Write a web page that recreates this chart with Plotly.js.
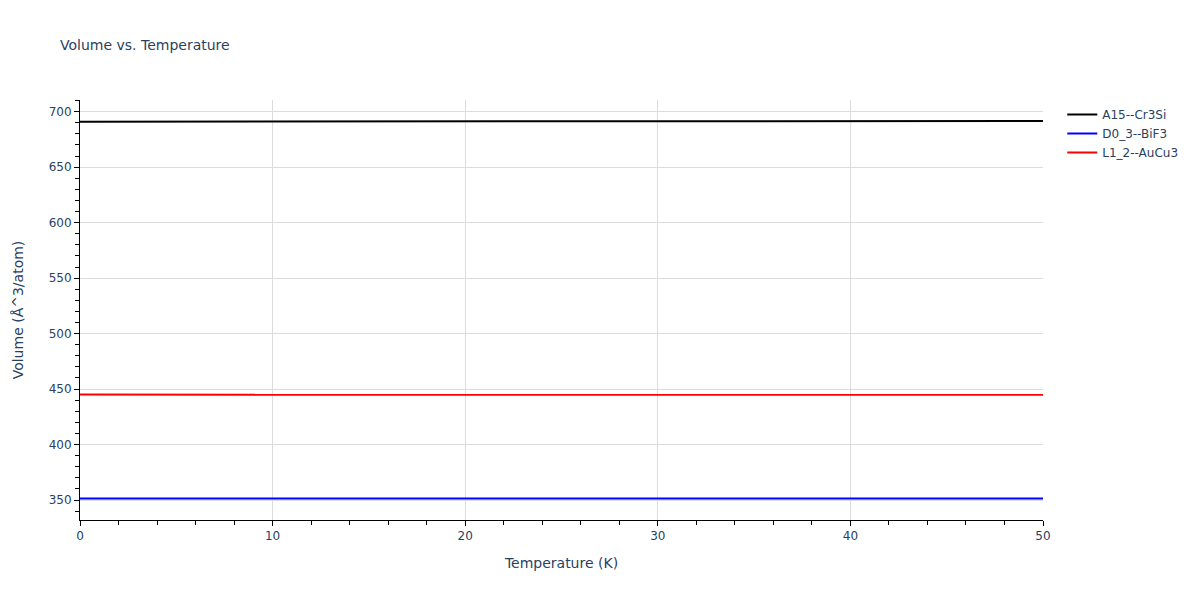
<!DOCTYPE html>
<html>
<head>
<meta charset="utf-8">
<script src="https://cdn.plot.ly/plotly-3.0.1.min.js"></script>
<style>html,body{margin:0;padding:0;background:#fff}#chart{width:1200px;height:600px}</style>
</head>
<body>
<div id="chart"></div>
<script>
const temperature = [0, 5, 10, 15, 20, 25, 30, 35, 40, 45, 50];
const volA15 = [691.0, 691.0, 691.05, 691.1, 691.15, 691.2, 691.25, 691.3, 691.4, 691.5, 691.6];
const volD03 = [351.3, 351.3, 351.3, 351.3, 351.3, 351.3, 351.3, 351.3, 351.3, 351.3, 351.3];
const volL12 = [445.0, 445.0, 445.0, 444.98, 444.95, 444.93, 444.9, 444.88, 444.85, 444.82, 444.8];
const seriesNames = ["A15--Cr3Si", "D0_3--BiF3", "L1_2--AuCu3"];
const seriesColors = ["black", "blue", "red"];

const data = [volA15, volD03, volL12].map((v, i) => ({
  x: temperature, y: v, type: "scatter", mode: "lines",
  name: seriesNames[i], line: {color: seriesColors[i], width: 2}
}));

const axisCommon = {
  showline: true, linecolor: "black", linewidth: 1,
  ticks: "outside", tickcolor: "black", ticklen: 5,
  showgrid: true, gridcolor: "#dcdcdc", zeroline: false,
  tickfont: {size: 12, color: "#2a3f5f"}
};

const layout = {
  width: 1200, height: 600,
  paper_bgcolor: "white", plot_bgcolor: "white",
  font: {family: "DejaVu Sans, Verdana, sans-serif", color: "#2a3f5f"},
  margin: {l: 80, r: 157, t: 100, b: 80},
  title: {text: "Volume vs. Temperature", x: 0.05, xanchor: "left", font: {size: 14}},
  xaxis: Object.assign({}, axisCommon, {
    range: [0, 50], dtick: 10,
    minor: {dtick: 2, ticks: "outside", ticklen: 4, tickcolor: "black", showgrid: false},
    title: {text: "Temperature (K)", font: {size: 14}, standoff: 15}
  }),
  yaxis: Object.assign({}, axisCommon, {
    range: [332, 710.5], dtick: 50,
    minor: {dtick: 10, ticks: "outside", ticklen: 4, tickcolor: "black", showgrid: false},
    title: {text: "Volume (Å^3/atom)", font: {size: 14}, standoff: 21}
  }),
  legend: {x: 1.02, y: 1, xanchor: "left", yanchor: "top", font: {size: 12}}
};

Plotly.newPlot("chart", data, layout, {displayModeBar: false});
</script>
</body>
</html>
